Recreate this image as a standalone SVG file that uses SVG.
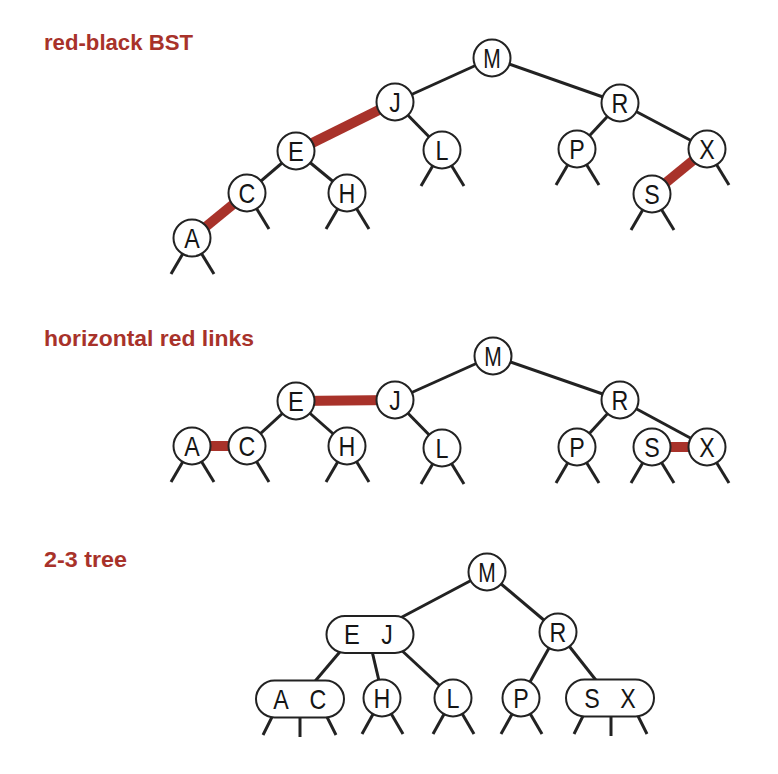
<svg xmlns="http://www.w3.org/2000/svg" width="778" height="774" viewBox="0 0 778 774">
<style>
.bg{fill:#ffffff}
.title{font-family:"Liberation Sans",Arial,sans-serif;font-weight:bold;font-size:22px;fill:#a8322a}
.e{stroke:#222222;stroke-width:3;fill:none}
.r{stroke:#a8322a;stroke-width:10;fill:none}
.n{fill:#ffffff;stroke:#222222;stroke-width:2}
.k{font-family:"Liberation Sans",Arial,sans-serif;font-size:27.5px;fill:#151515;text-anchor:middle}
</style>
<rect class="bg" x="0" y="0" width="778" height="774"/>
<g id="titles">
<text class="title" x="44" y="50" textLength="149" lengthAdjust="spacingAndGlyphs">red-black BST</text>
<text class="title" x="44" y="346" textLength="210" lengthAdjust="spacingAndGlyphs">horizontal red links</text>
<text class="title" x="44" y="567" textLength="83" lengthAdjust="spacingAndGlyphs">2-3 tree</text>
</g>
<g id="connectors">
<line class="e" x1="492" y1="58" x2="395" y2="102"/>
<line class="e" x1="492" y1="58" x2="620" y2="103"/>
<line class="r" x1="395" y1="102" x2="296" y2="151"/>
<line class="e" x1="395" y1="102" x2="442" y2="150"/>
<line class="e" x1="296" y1="151" x2="247" y2="193"/>
<line class="e" x1="296" y1="151" x2="347" y2="193"/>
<line class="r" x1="247" y1="193" x2="192" y2="238"/>
<line class="e" x1="620" y1="103" x2="577" y2="149"/>
<line class="e" x1="620" y1="103" x2="707" y2="149"/>
<line class="r" x1="707" y1="149" x2="652" y2="194"/>
<line class="e" x1="192" y1="238" x2="171" y2="274"/>
<line class="e" x1="192" y1="238" x2="214" y2="274"/>
<line class="e" x1="247" y1="193" x2="269" y2="229"/>
<line class="e" x1="347" y1="193" x2="326" y2="229"/>
<line class="e" x1="347" y1="193" x2="369" y2="229"/>
<line class="e" x1="442" y1="150" x2="421" y2="186"/>
<line class="e" x1="442" y1="150" x2="464" y2="186"/>
<line class="e" x1="577" y1="149" x2="556" y2="185"/>
<line class="e" x1="577" y1="149" x2="599" y2="185"/>
<line class="e" x1="707" y1="149" x2="729" y2="185"/>
<line class="e" x1="652" y1="194" x2="631" y2="230"/>
<line class="e" x1="652" y1="194" x2="674" y2="230"/>
<line class="e" x1="493" y1="356" x2="395" y2="400"/>
<line class="e" x1="493" y1="356" x2="620" y2="400"/>
<line class="r" x1="395" y1="400" x2="296" y2="401"/>
<line class="e" x1="395" y1="400" x2="442" y2="448"/>
<line class="e" x1="296" y1="401" x2="247" y2="446"/>
<line class="e" x1="296" y1="401" x2="347" y2="446"/>
<line class="r" x1="247" y1="446" x2="192" y2="446"/>
<line class="e" x1="620" y1="400" x2="577" y2="447"/>
<line class="e" x1="620" y1="400" x2="707" y2="447"/>
<line class="r" x1="652" y1="447" x2="707" y2="447"/>
<line class="e" x1="192" y1="446" x2="171" y2="482"/>
<line class="e" x1="192" y1="446" x2="214" y2="482"/>
<line class="e" x1="247" y1="446" x2="269" y2="482"/>
<line class="e" x1="347" y1="446" x2="326" y2="482"/>
<line class="e" x1="347" y1="446" x2="369" y2="482"/>
<line class="e" x1="442" y1="448" x2="421" y2="484"/>
<line class="e" x1="442" y1="448" x2="464" y2="484"/>
<line class="e" x1="577" y1="447" x2="556" y2="483"/>
<line class="e" x1="577" y1="447" x2="599" y2="483"/>
<line class="e" x1="652" y1="447" x2="631" y2="483"/>
<line class="e" x1="652" y1="447" x2="674" y2="483"/>
<line class="e" x1="707" y1="447" x2="729" y2="483"/>
<line class="e" x1="487" y1="572" x2="370" y2="634"/>
<line class="e" x1="487" y1="572" x2="558" y2="632"/>
<line class="e" x1="355" y1="634" x2="300" y2="699"/>
<line class="e" x1="368" y1="634" x2="383" y2="698"/>
<line class="e" x1="384" y1="634" x2="453" y2="698"/>
<line class="e" x1="558" y1="632" x2="521" y2="698"/>
<line class="e" x1="558" y1="632" x2="610" y2="698"/>
<line class="e" x1="273" y1="715" x2="263" y2="735"/>
<line class="e" x1="300" y1="715" x2="300" y2="737"/>
<line class="e" x1="326" y1="715" x2="336" y2="735"/>
<line class="e" x1="382" y1="698" x2="362" y2="734"/>
<line class="e" x1="382" y1="698" x2="403" y2="734"/>
<line class="e" x1="453" y1="698" x2="433" y2="734"/>
<line class="e" x1="453" y1="698" x2="474" y2="734"/>
<line class="e" x1="521" y1="698" x2="501" y2="734"/>
<line class="e" x1="521" y1="698" x2="542" y2="734"/>
<line class="e" x1="584" y1="714" x2="574" y2="734"/>
<line class="e" x1="611" y1="714" x2="611" y2="736"/>
<line class="e" x1="637" y1="714" x2="647" y2="734"/>
</g>
<g id="t1-M"><circle class="n" cx="492" cy="58" r="18.5"/><text class="k" x="492" y="67.9" textLength="17.5" lengthAdjust="spacingAndGlyphs">M</text></g>
<g id="t1-J"><circle class="n" cx="395" cy="102" r="18.5"/><text class="k" x="395" y="111.9" textLength="11.5" lengthAdjust="spacingAndGlyphs">J</text></g>
<g id="t1-R"><circle class="n" cx="620" cy="103" r="18.5"/><text class="k" x="620" y="112.9" textLength="16.8" lengthAdjust="spacingAndGlyphs">R</text></g>
<g id="t1-E"><circle class="n" cx="296" cy="151" r="18.5"/><text class="k" x="296" y="160.9" textLength="15.8" lengthAdjust="spacingAndGlyphs">E</text></g>
<g id="t1-L"><circle class="n" cx="442" cy="150" r="18.5"/><text class="k" x="442" y="159.9" textLength="13" lengthAdjust="spacingAndGlyphs">L</text></g>
<g id="t1-P"><circle class="n" cx="577" cy="149" r="18.5"/><text class="k" x="577" y="158.9" textLength="15.5" lengthAdjust="spacingAndGlyphs">P</text></g>
<g id="t1-X"><circle class="n" cx="707" cy="149" r="18.5"/><text class="k" x="707" y="158.9" textLength="15.5" lengthAdjust="spacingAndGlyphs">X</text></g>
<g id="t1-C"><circle class="n" cx="247" cy="193" r="18.5"/><text class="k" x="247" y="202.9" textLength="16.8" lengthAdjust="spacingAndGlyphs">C</text></g>
<g id="t1-H"><circle class="n" cx="347" cy="193" r="18.5"/><text class="k" x="347" y="202.9" textLength="16.8" lengthAdjust="spacingAndGlyphs">H</text></g>
<g id="t1-S"><circle class="n" cx="652" cy="194" r="18.5"/><text class="k" x="652" y="203.9" textLength="15.5" lengthAdjust="spacingAndGlyphs">S</text></g>
<g id="t1-A"><circle class="n" cx="192" cy="238" r="18.5"/><text class="k" x="192" y="247.9" textLength="15.5" lengthAdjust="spacingAndGlyphs">A</text></g>
<g id="t2-M"><circle class="n" cx="493" cy="356" r="18.5"/><text class="k" x="493" y="365.9" textLength="17.5" lengthAdjust="spacingAndGlyphs">M</text></g>
<g id="t2-J"><circle class="n" cx="395" cy="400" r="18.5"/><text class="k" x="395" y="409.9" textLength="11.5" lengthAdjust="spacingAndGlyphs">J</text></g>
<g id="t2-R"><circle class="n" cx="620" cy="400" r="18.5"/><text class="k" x="620" y="409.9" textLength="16.8" lengthAdjust="spacingAndGlyphs">R</text></g>
<g id="t2-E"><circle class="n" cx="296" cy="401" r="18.5"/><text class="k" x="296" y="410.9" textLength="15.8" lengthAdjust="spacingAndGlyphs">E</text></g>
<g id="t2-L"><circle class="n" cx="442" cy="448" r="18.5"/><text class="k" x="442" y="457.9" textLength="13" lengthAdjust="spacingAndGlyphs">L</text></g>
<g id="t2-P"><circle class="n" cx="577" cy="447" r="18.5"/><text class="k" x="577" y="456.9" textLength="15.5" lengthAdjust="spacingAndGlyphs">P</text></g>
<g id="t2-S"><circle class="n" cx="652" cy="447" r="18.5"/><text class="k" x="652" y="456.9" textLength="15.5" lengthAdjust="spacingAndGlyphs">S</text></g>
<g id="t2-X"><circle class="n" cx="707" cy="447" r="18.5"/><text class="k" x="707" y="456.9" textLength="15.5" lengthAdjust="spacingAndGlyphs">X</text></g>
<g id="t2-A"><circle class="n" cx="192" cy="446" r="18.5"/><text class="k" x="192" y="455.9" textLength="15.5" lengthAdjust="spacingAndGlyphs">A</text></g>
<g id="t2-C"><circle class="n" cx="247" cy="446" r="18.5"/><text class="k" x="247" y="455.9" textLength="16.8" lengthAdjust="spacingAndGlyphs">C</text></g>
<g id="t2-H"><circle class="n" cx="347" cy="446" r="18.5"/><text class="k" x="347" y="455.9" textLength="16.8" lengthAdjust="spacingAndGlyphs">H</text></g>
<g id="t3-M"><circle class="n" cx="487" cy="572" r="18.5"/><text class="k" x="487" y="581.9" textLength="17.5" lengthAdjust="spacingAndGlyphs">M</text></g>
<g id="t3-R"><circle class="n" cx="558" cy="632" r="18.5"/><text class="k" x="558" y="641.9" textLength="16.8" lengthAdjust="spacingAndGlyphs">R</text></g>
<g id="t3-EJ"><rect class="n" x="326.5" y="616" width="87" height="37" rx="18.5" ry="18.5"/><text class="k" x="352" y="644.4" textLength="15.8" lengthAdjust="spacingAndGlyphs">E</text><text class="k" x="387" y="644.4" textLength="11.5" lengthAdjust="spacingAndGlyphs">J</text></g>
<g id="t3-AC"><rect class="n" x="256" y="680.5" width="88" height="37" rx="18.5" ry="18.5"/><text class="k" x="281" y="708.9" textLength="15.5" lengthAdjust="spacingAndGlyphs">A</text><text class="k" x="318" y="708.9" textLength="16.8" lengthAdjust="spacingAndGlyphs">C</text></g>
<g id="t3-H"><circle class="n" cx="382" cy="698" r="18.5"/><text class="k" x="382" y="707.9" textLength="16.8" lengthAdjust="spacingAndGlyphs">H</text></g>
<g id="t3-L"><circle class="n" cx="453" cy="698" r="18.5"/><text class="k" x="453" y="707.9" textLength="13" lengthAdjust="spacingAndGlyphs">L</text></g>
<g id="t3-P"><circle class="n" cx="521" cy="698" r="18.5"/><text class="k" x="521" y="707.9" textLength="15.5" lengthAdjust="spacingAndGlyphs">P</text></g>
<g id="t3-SX"><rect class="n" x="566" y="679.5" width="88" height="37" rx="18.5" ry="18.5"/><text class="k" x="592" y="707.9" textLength="15.5" lengthAdjust="spacingAndGlyphs">S</text><text class="k" x="628" y="707.9" textLength="15.5" lengthAdjust="spacingAndGlyphs">X</text></g>
</svg>
